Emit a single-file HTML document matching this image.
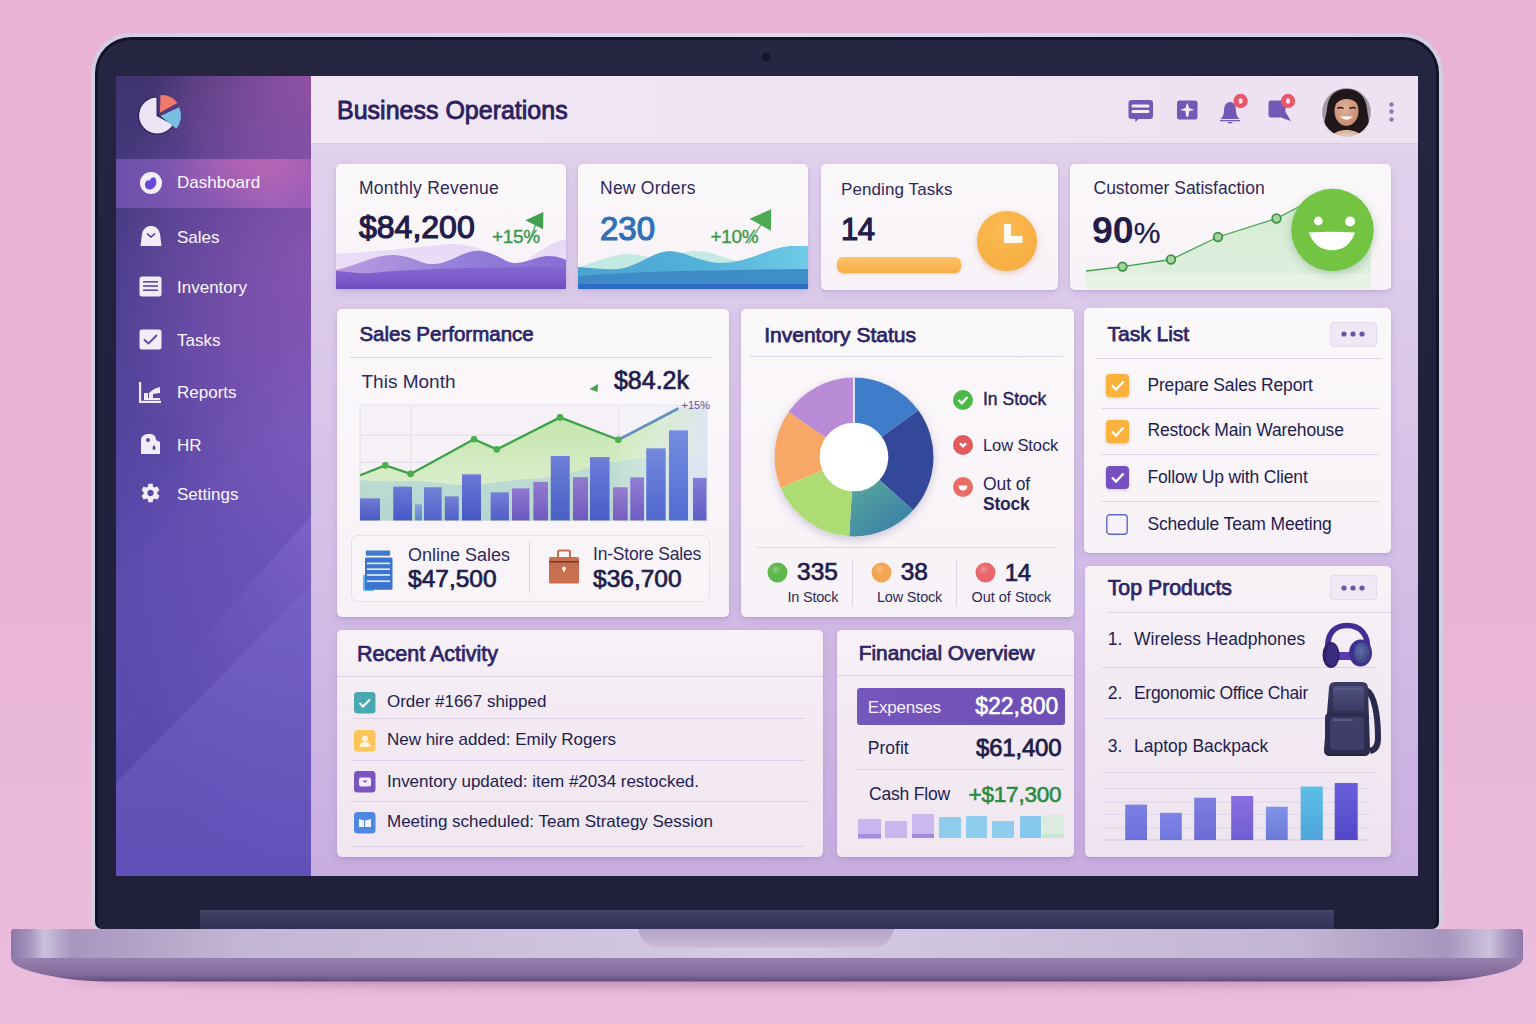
<!DOCTYPE html>
<html><head><meta charset="utf-8">
<style>
*{box-sizing:border-box;margin:0;padding:0}
html,body{width:1536px;height:1024px;overflow:hidden}
body{position:relative;font-family:"Liberation Sans",sans-serif;color:#231d4f;
 background:linear-gradient(180deg,#e9b3d3 0%,#e9b5d5 60%,#ebbddc 100%);}
.a{position:absolute}
.t{position:absolute;white-space:nowrap;line-height:1}
/* laptop */
#lid{left:91px;top:33px;width:1352px;height:897px;border-radius:40px 40px 10px 10px;
 background:linear-gradient(90deg,#d2cee4,#dedaec 50%,#d2cee4);}
#bezel{left:95px;top:37px;width:1344px;height:892px;border-radius:36px 36px 7px 7px;background:#14132a;}
#bezel2{left:98px;top:40px;width:1338px;height:889px;border-radius:33px 33px 6px 6px;background:linear-gradient(180deg,#262542,#22213d 40%,#21203b);}
#cam{left:762px;top:53px;width:8px;height:8px;border-radius:50%;background:#15142a}
#hinge{left:200px;top:910px;width:1134px;height:19px;background:linear-gradient(180deg,#454768 0%,#3b3d60 30%,#30325a 100%);}
#base{left:11px;top:929px;width:1512px;height:29px;border-radius:3px 3px 0 0;
 background:linear-gradient(90deg,#8f7aaa 0%,#c9bedb 2%,#a996bf 4%,#c0b2d2 12%,#cdc2dc 50%,#c0b2d2 88%,#a996bf 96%,#c9bedb 98%,#8f7aaa 100%);}
#bevel{left:11px;top:958px;width:1512px;height:24px;border-radius:0 0 60% 60%/0 0 100% 100%;
 background:linear-gradient(180deg,#9a83b3,#7f6797 80%,#5e4a78);}
#notch{left:638px;top:929px;width:256px;height:19px;border-radius:0 0 18px 18px;background:linear-gradient(180deg,#b7a5c8,#c8b8d6);}
#shadow{left:70px;top:972px;width:1396px;height:16px;border-radius:50%;background:rgba(110,50,100,.28);filter:blur(5px)}
/* screen */
#screen{left:116px;top:76px;width:1302px;height:800px;overflow:hidden;background:linear-gradient(180deg,#e4d4ee 0%,#dccaea 30%,#d4bfe7 60%,#c9aee0 100%);}
#side{left:0;top:0;width:195px;height:800px;background:radial-gradient(ellipse 160px 140px at 100% 0%,rgba(185,95,185,.55),rgba(185,95,185,0)),radial-gradient(ellipse 200px 300px at 100% 22%,rgba(175,95,195,.5),rgba(175,95,195,0)),radial-gradient(ellipse 230px 460px at 100% 45%,rgba(140,100,210,.45),rgba(140,100,210,0)),linear-gradient(180deg,#3f346f 0%,#4b3e8c 25%,#5345a4 55%,#5648b0 100%);}
#main{left:195px;top:0;width:1107px;height:800px}
#header{left:0;top:0;width:1107px;height:68px;background:linear-gradient(90deg,#f1e6f3,#eee1f1);border-bottom:1px solid #d9c9e6}
.card{position:absolute;background:linear-gradient(180deg,#fbf8fa,#f7f1f7);border-radius:5px;box-shadow:0 2px 8px rgba(110,80,160,.18)}
</style></head><body>
<div id="shadow" class="a"></div>
<div id="lid" class="a"></div>
<div id="bezel" class="a"></div>
<div id="bezel2" class="a"></div>
<div id="cam" class="a"></div>
<div id="hinge" class="a"></div>
<svg class="a" style="left:0;top:920px" width="1536" height="80" viewBox="0 920 1536 80">
 <defs>
  <linearGradient id="basetop" x1="0" y1="0" x2="1" y2="0">
   <stop offset="0" stop-color="#8c78a8"/><stop offset=".012" stop-color="#a593bd"/><stop offset=".022" stop-color="#cbc1dc"/>
   <stop offset=".04" stop-color="#a996bf"/><stop offset=".15" stop-color="#c3b5d4"/><stop offset=".5" stop-color="#d5cbe2"/>
   <stop offset=".85" stop-color="#c3b5d4"/><stop offset=".95" stop-color="#a996bf"/><stop offset=".978" stop-color="#cbc1dc"/>
   <stop offset=".99" stop-color="#a593bd"/><stop offset="1" stop-color="#8c78a8"/>
  </linearGradient>
  <linearGradient id="basebev" x1="0" y1="0" x2="0" y2="1">
   <stop offset="0" stop-color="#9580ad"/><stop offset=".7" stop-color="#836c9c"/><stop offset="1" stop-color="#604c7c"/>
  </linearGradient>
  <linearGradient id="notchg" x1="0" y1="0" x2="0" y2="1">
   <stop offset="0" stop-color="#b5a4c6"/><stop offset="1" stop-color="#c9bad7"/>
  </linearGradient>
 </defs>
 <path d="M11 958 L1523 958 Q1523 968 1490 975 Q1460 981.5 1430 981.5 L106 981.5 Q76 981.5 46 975 Q11 968 11 958Z" fill="url(#basebev)"/>
 <path d="M14 929 L1520 929 Q1523 929 1523 932 L1523 958 L11 958 L11 932 Q11 929 14 929Z" fill="url(#basetop)"/>
 <path d="M638 929 L894 929 Q890 947.5 872 947.5 L660 947.5 Q642 947.5 638 929Z" fill="url(#notchg)"/>
</svg>

<div id="screen" class="a">
 <div id="side" class="a">
  <svg class="a" style="left:0;top:0" width="195" height="800">
   <defs>
    <linearGradient id="sg1" x1="0" y1="0" x2="1" y2="1">
     <stop offset="0" stop-color="#6a56b6" stop-opacity="0"/>
     <stop offset="1" stop-color="#8a6fd0" stop-opacity=".35"/>
    </linearGradient>
    <radialGradient id="pinkglow" cx="0.85" cy="0.3" r="0.6">
     <stop offset="0" stop-color="#c070c0" stop-opacity=".8"/>
     <stop offset="1" stop-color="#c070c0" stop-opacity="0"/>
    </radialGradient>
   </defs>
   <polygon points="195,257 195,800 0,800 0,453" fill="#8a78d8" opacity=".07"/>
   <polygon points="195,303 195,800 0,800 0,499" fill="#8a78d8" opacity=".07"/>
   <defs>
    <linearGradient id="bandg" x1="1" y1="0" x2="0" y2="1">
     <stop offset="0" stop-color="#9a7ae0" stop-opacity=".35"/><stop offset=".6" stop-color="#6a58c0" stop-opacity=".08"/><stop offset="1" stop-color="#3a2c90" stop-opacity=".18"/>
    </linearGradient>
    <linearGradient id="lowg" x1="0" y1="0" x2="0" y2="1">
     <stop offset="0" stop-color="#9080e0" stop-opacity=".32"/><stop offset="1" stop-color="#7a70d8" stop-opacity=".12"/>
    </linearGradient>
   </defs>
   <polygon points="195,440 195,509 0,707 0,659" fill="url(#bandg)"/>
   <polygon points="195,509 195,800 0,800 0,707" fill="url(#lowg)"/>
  </svg>
  <div class="a" style="left:0;top:83px;width:195px;height:49px;background:radial-gradient(ellipse 90px 40px at 70% 10%,rgba(205,105,180,.55),rgba(205,105,180,0)),linear-gradient(90deg,#6a50ab 0%,#8558b2 45%,#a062b6 80%,#9c5eb6 100%);"></div>
  
  <!-- logo -->
  <svg class="a" style="left:17px;top:12px" width="55" height="55" viewBox="0 0 50 50">
   <path d="M22 25 L22 8 A17 17 0 1 0 37 33 Z" fill="#ece4f5" stroke="#2a2160" stroke-width="1.2"/>
   <path d="M24.5 22.5 L25 6.5 A18.5 18.5 0 0 1 40.5 13.5 Z" fill="#ef7a6c"/>
   <path d="M25 25.5 L42 17.5 A19 19 0 0 1 39.5 37 Z" fill="#79bee0"/>
  </svg>
  <!-- items -->
  <svg class="a" style="left:23px;top:95px" width="24" height="24" viewBox="0 0 24 24">
   <circle cx="12" cy="12" r="11" fill="#f3eefa"/>
   <path d="M6 14.5 C5.5 10.5 8.5 8.5 11 9.5 C12 6 16 5 17 8.5 C18.5 13 15.5 18.5 10.5 18.5 C8 18.5 6.3 17 6 14.5Z" fill="#6a48d8"/>
  </svg>
  <div class="t" style="left:61px;top:98px;font-size:17px;color:#fbf7ff">Dashboard</div>
  <svg class="a" style="left:23px;top:149px" width="24" height="22" viewBox="0 0 24 22">
   <path d="M1.5 21 L3 9 C4 3.5 8 1 12 1 C16 1 20 3.5 21 9 L22.5 21 Z" fill="#f1ecf8"/>
   <path d="M8 8.5 L12 12 L16 8.5" fill="none" stroke="#4b3c8c" stroke-width="1.6"/>
  </svg>
  <div class="t" style="left:61px;top:153px;font-size:17px;color:#fbf7ff">Sales</div>
  <svg class="a" style="left:23px;top:200px" width="23" height="21" viewBox="0 0 23 21">
   <rect x="0.5" y="0.5" width="22" height="20" rx="2.5" fill="#f1ecf8"/>
   <rect x="4" y="5" width="15" height="1.6" fill="#5b4a9c"/>
   <rect x="4" y="9.2" width="15" height="1.6" fill="#5b4a9c"/>
   <rect x="4" y="13.4" width="15" height="1.6" fill="#5b4a9c"/>
  </svg>
  <div class="t" style="left:61px;top:203px;font-size:17px;color:#fbf7ff">Inventory</div>
  <svg class="a" style="left:23px;top:253px" width="23" height="21" viewBox="0 0 23 21">
   <rect x="0.5" y="0.5" width="22" height="20" rx="2.5" fill="#f1ecf8"/>
   <path d="M5 10.5 L9.5 14.5 L18 6" fill="none" stroke="#5b4a9c" stroke-width="1.8"/>
  </svg>
  <div class="t" style="left:61px;top:256px;font-size:17px;color:#fbf7ff">Tasks</div>
  <svg class="a" style="left:23px;top:305px" width="23" height="22" viewBox="0 0 23 22">
   <path d="M1 1 L1 21 L22 21" fill="none" stroke="#f1ecf8" stroke-width="2.4"/>
   <rect x="5" y="12" width="4" height="6" fill="#f1ecf8"/>
   <path d="M10 18 L10 12 L15 8 L21 6 L21 12 L14 13 L14 18Z" fill="#f1ecf8"/>
   <rect x="5" y="17" width="16" height="2" fill="#f1ecf8"/>
  </svg>
  <div class="t" style="left:61px;top:308px;font-size:17px;color:#fbf7ff">Reports</div>
  <svg class="a" style="left:23px;top:357px" width="23" height="22" viewBox="0 0 23 22">
   <path d="M2 21 L2 8 C2 3 5 1 10 1 C15 1 17 3 17 7 L21 9 L21 21Z" fill="#f1ecf8"/>
   <circle cx="9" cy="7" r="2" fill="#5b4a9c"/>
   <path d="M15 12 C13 14 13 17 15 17 C17 17 17 14 15 12Z" fill="#5b4a9c"/>
  </svg>
  <div class="t" style="left:61px;top:361px;font-size:17px;color:#fbf7ff">HR</div>
  <svg class="a" style="left:23px;top:406px" width="23" height="22" viewBox="0 0 24 24">
   <path fill="#f1ecf8" d="M19.4 13c.04-.33.06-.66.06-1s-.02-.67-.06-1l2.1-1.65c.19-.15.24-.42.12-.64l-2-3.46c-.12-.22-.39-.3-.61-.22l-2.49 1c-.52-.4-1.08-.73-1.69-.98l-.38-2.65C14.46 2.18 14.25 2 14 2h-4c-.25 0-.46.18-.49.42l-.38 2.65c-.61.25-1.17.59-1.69.98l-2.49-1c-.23-.09-.49 0-.61.22l-2 3.46c-.13.22-.07.49.12.64L4.57 11c-.04.33-.07.67-.07 1s.03.67.07 1l-2.11 1.65c-.19.15-.24.42-.12.64l2 3.46c.12.22.39.3.61.22l2.49-1c.52.4 1.08.73 1.69.98l.38 2.65c.03.24.24.42.49.42h4c.25 0 .46-.18.49-.42l.38-2.65c.61-.25 1.17-.59 1.69-.98l2.49 1c.23.09.49 0 .61-.22l2-3.46c.12-.22.07-.49-.12-.64L19.4 13zM12 15.5c-1.93 0-3.5-1.57-3.5-3.5s1.57-3.5 3.5-3.5 3.5 1.57 3.5 3.5-1.57 3.5-3.5 3.5z"/>
  </svg>
  <div class="t" style="left:61px;top:410px;font-size:17px;color:#fbf7ff">Settings</div>
 </div>
 <div id="main" class="a">
  <div id="header" class="a"></div>
 </div>
</div>


<div class="t" style="left:337.0px;top:98.3px;font-size:25px;font-weight:400;color:#2a2160;letter-spacing:0;-webkit-text-stroke:0.85px #2a2160">Business Operations</div>
<svg class="a" style="left:1128px;top:99px;overflow:visible" width="26" height="24" viewBox="0 0 26 24"><rect x="0.5" y="1" width="24.5" height="19" rx="3" fill="#7358b5"/>
<path d="M7 19 L7.5 23 L11.5 19Z" fill="#7358b5"/>
<rect x="3.5" y="5.5" width="18" height="3" rx="1.5" fill="#f4eef8"/>
<rect x="3.5" y="11" width="18" height="3" rx="1.5" fill="#f4eef8"/></svg>
<svg class="a" style="left:1177px;top:100px;overflow:visible" width="21" height="20" viewBox="0 0 21 20"><rect x="0" y="0.5" width="20.5" height="19" rx="2.5" fill="#7358b5"/>
<path d="M10.3 3 C11.5 5 11.5 7 12 8 L17.5 10 L12 11 L11.5 16 L10.3 17 L9 16 L8.5 11 L3 10 L8.5 8 C9 7 9 5 10.3 3Z" fill="#f4eef8"/></svg>
<svg class="a" style="left:1219px;top:98px;overflow:visible" width="26" height="27" viewBox="0 0 26 27"><path d="M11 4 C6 4.5 5 9 5 13 C5 17 3.5 19 1.5 21 L20.5 21 C18.5 19 17 17 17 13 C17 9 16 4.5 11 4Z" fill="#7358b5"/>
<rect x="1" y="22" width="20" height="1.3" fill="#7358b5"/>
<path d="M8 24 Q11 27 14 24Z" fill="#7358b5"/>
<circle cx="21.6" cy="3" r="7.2" fill="#e9566a"/>
<ellipse cx="21.6" cy="3" rx="2" ry="2.8" fill="#fbe9ee"/></svg>
<svg class="a" style="left:1268px;top:98px;overflow:visible" width="30" height="26" viewBox="0 0 30 26"><path d="M0.5 5 Q0.5 2.5 3 2.5 L15 2.5 Q17.5 2.5 17.5 5 L17.5 14 L23 23 L12.5 19.5 L3 19.5 Q0.5 19.5 0.5 17 Z" fill="#7358b5"/>
<path d="M12.5 19.8 L17.5 24" stroke="#f4eef8" stroke-width="1.2"/>
<circle cx="20" cy="3" r="7.2" fill="#e9566a"/>
<ellipse cx="20" cy="3" rx="2" ry="2.8" fill="#fbe9ee"/></svg>
<svg class="a" style="left:1321px;top:87px;overflow:visible" width="51" height="51" viewBox="0 0 51 51"><defs><clipPath id="avc"><circle cx="25.5" cy="25.5" r="25.3"/></clipPath>
<radialGradient id="facg" cx=".45" cy=".4" r=".6"><stop offset="0" stop-color="#e2b29a"/><stop offset="1" stop-color="#c78c72"/></radialGradient></defs>
<g clip-path="url(#avc)">
<rect width="51" height="51" fill="#a398a8"/>
<path d="M4 46 C2 36 5 30 6 22 C7 8 15 2 25.5 2 C37 2 45 9 46 22 C47 30 49 36 47 46 Z" fill="#1f1719"/>
<path d="M10 51 C12 45 19 43 25.5 43 C32 43 39 45 41 51Z" fill="#e0b49c"/>
<path d="M14 51 C16 47 20 46 25.5 46 C31 46 35 47 37 51Z" fill="#d8c8c8"/>
<ellipse cx="25.5" cy="24" rx="12" ry="15" fill="url(#facg)"/>
<path d="M12 20 C13 9 20 5 27 6 C35 7 39 13 39.5 20 C35 14 30 11.5 24 12 C18 13 15 16 12 20Z" fill="#1f1719"/>
<path d="M16.5 21.5 Q19.5 19.5 22.5 21.5" stroke="#2a1a18" stroke-width="1.6" fill="none"/>
<path d="M28.5 21.5 Q31.5 19.5 34.5 21.5" stroke="#2a1a18" stroke-width="1.6" fill="none"/>
<path d="M19 29.5 Q25.5 36 32 29.5 Z" fill="#ffffff"/>
</g><circle cx="25.5" cy="25.5" r="25" fill="none" stroke="#f3ecf5" stroke-width="1.2"/></svg>
<svg class="a" style="left:1389px;top:101.5px;overflow:visible" width="5" height="5" viewBox="0 0 5 5"><circle cx="2.5" cy="2.5" r="2.2" fill="#8c78b4"/></svg>
<svg class="a" style="left:1389px;top:109.0px;overflow:visible" width="5" height="5" viewBox="0 0 5 5"><circle cx="2.5" cy="2.5" r="2.2" fill="#8c78b4"/></svg>
<svg class="a" style="left:1389px;top:116.5px;overflow:visible" width="5" height="5" viewBox="0 0 5 5"><circle cx="2.5" cy="2.5" r="2.2" fill="#8c78b4"/></svg>
<div class="a" style="left:336.0px;top:164.0px;width:230.0px;height:125.0px;border-radius:5px;background:linear-gradient(180deg,#fbf8fa,#f7f2f7);box-shadow:0 1px 2px rgba(120,90,170,.18),0 3px 10px rgba(120,90,170,.18);overflow:hidden"></div>
<svg class="a" style="left:336px;top:164px;overflow:visible" width="230" height="125" viewBox="0 0 230 125"><defs>
<linearGradient id="w1a" x1="0" y1="0" x2="0" y2="1"><stop offset="0" stop-color="#e7d7f6"/><stop offset="1" stop-color="#efe3f8"/></linearGradient>
<linearGradient id="w1b" x1="0" y1="0" x2="1" y2="0"><stop offset="0" stop-color="#b394dc"/><stop offset="0.55" stop-color="#8a74d6"/><stop offset="1" stop-color="#7e62d0"/></linearGradient>
<linearGradient id="w1c" x1="0" y1="0" x2="0" y2="1"><stop offset="0" stop-color="#8466d0"/><stop offset="1" stop-color="#7352c4"/></linearGradient>
</defs>
<path d="M0 90 C30 88 60 86 112 80 C140 79 160 92 172 99 C190 106 200 82 230 75 L230 125 L0 125Z" fill="url(#w1a)"/>
<path d="M0 106 C20 102 40 90 58 91 C78 92 86 101 97 100 C115 100 128 85 145 87 C162 89 170 100 180 99 C195 98 200 92 213 92 C222 92 228 95 230 96 L230 125 L0 125Z" fill="url(#w1b)" opacity=".9"/>
<path d="M0 107 C15 108 25 110 35 109 C80 105 140 103 230 103 L230 125 L0 125Z" fill="url(#w1c)"/>
<rect x="0" y="119" width="230" height="6" fill="#6d4fc0" opacity=".6"/></svg>
<div class="t" style="left:359.0px;top:180.2px;font-size:17.5px;font-weight:400;color:#2e2a5a;letter-spacing:0.25px">Monthly Revenue</div>
<div class="t" style="left:359.0px;top:210.9px;font-size:32px;font-weight:400;color:#221c4a;letter-spacing:0;-webkit-text-stroke:1.2px #221c4a">$84,200</div>
<div class="t" style="left:492.0px;top:226.9px;font-size:19px;font-weight:400;color:#3a9a48;letter-spacing:-0.3px;-webkit-text-stroke:0.35px #3a9a48">+15%</div>
<svg class="a" style="left:524px;top:210px;overflow:visible" width="22" height="36" viewBox="0 0 22 36"><path d="M1.4 10.2 L19.4 2 L19 19.2 Z" fill="#43a250"/>
<path d="M11.5 15 L4.4 33.4" stroke="#43a250" stroke-width="1.2"/></svg>
<div class="a" style="left:578.0px;top:164.0px;width:230.0px;height:125.0px;border-radius:5px;background:linear-gradient(180deg,#fbf8fa,#f7f2f7);box-shadow:0 1px 2px rgba(120,90,170,.18),0 3px 10px rgba(120,90,170,.18);overflow:hidden"></div>
<svg class="a" style="left:578px;top:164px;overflow:visible" width="230" height="125" viewBox="0 0 230 125"><defs>
<linearGradient id="w2b" x1="0" y1="0" x2="1" y2="0"><stop offset="0" stop-color="#4aa2d0"/><stop offset="0.6" stop-color="#55b4da"/><stop offset="1" stop-color="#6fcbe6"/></linearGradient>
<linearGradient id="w2c" x1="0" y1="0" x2="1" y2="0"><stop offset="0" stop-color="#3f88c8"/><stop offset="1" stop-color="#3d8fc6"/></linearGradient>
</defs>
<path d="M4 102 C20 97 35 90 50 90 C62 90 72 94 78 94 C92 94 105 86 120 87 C135 88 145 94 160 97 L160 125 L4 125Z" fill="#c2eae2"/>
<path d="M0 103 C15 104 30 106 40 105 C60 103 75 87 92 87 C105 87 125 99 142 99 C170 99 190 84 212 82 L230 82 L230 125 L0 125Z" fill="url(#w2b)"/>
<path d="M0 112 C30 110 60 108 100 107 C160 106 200 105 230 105 L230 125 L0 125Z" fill="url(#w2c)"/>
<rect x="0" y="120" width="230" height="5" fill="#2c6cc2"/></svg>
<div class="t" style="left:600.0px;top:180.2px;font-size:17.5px;font-weight:400;color:#2e2a5a;letter-spacing:0.25px">New Orders</div>
<div class="t" style="left:600.0px;top:211.6px;font-size:33px;font-weight:400;color:#2f70b8;letter-spacing:0;-webkit-text-stroke:1.2px #2f70b8">230</div>
<div class="t" style="left:710.5px;top:226.9px;font-size:19px;font-weight:400;color:#3a9a48;letter-spacing:-0.3px;-webkit-text-stroke:0.35px #3a9a48">+10%</div>
<svg class="a" style="left:747px;top:207px;overflow:visible" width="26" height="38" viewBox="0 0 26 38"><path d="M2.5 11.7 L24.2 2.3 L23.9 23.7 Z" fill="#4cab52"/>
<path d="M14.4 17 L1.7 36.4" stroke="#4cab52" stroke-width="1.2"/></svg>
<div class="a" style="left:821.0px;top:164.0px;width:237.0px;height:126.0px;border-radius:5px;background:linear-gradient(180deg,#fbf8fa,#f7f2f7);box-shadow:0 1px 2px rgba(120,90,170,.18),0 3px 10px rgba(120,90,170,.18);"></div>
<div class="t" style="left:841.0px;top:180.6px;font-size:17px;font-weight:400;color:#2e2a5a;letter-spacing:0.1px">Pending Tasks</div>
<div class="t" style="left:841.0px;top:214.3px;font-size:31px;font-weight:400;color:#221c4a;letter-spacing:-0.5px;-webkit-text-stroke:1.2px #221c4a">14</div>
<div class="a" style="left:837.0px;top:257.0px;width:124.0px;height:16.0px;border-radius:6px;background:linear-gradient(180deg,#fcc268,#f8ad48);box-shadow:0 1px 2px rgba(200,120,40,.3)"></div>
<svg class="a" style="left:972px;top:206px;overflow:visible" width="70" height="70" viewBox="0 0 70 70"><defs><radialGradient id="og" cx=".45" cy=".35" r=".7"><stop offset="0" stop-color="#fcbc52"/><stop offset="1" stop-color="#f6ac40"/></radialGradient></defs>
<circle cx="35" cy="35" r="30" fill="url(#og)" style="filter:drop-shadow(0 2px 3px rgba(200,120,60,.35))"/>
<path d="M32 18 L39 18 L39 30 L50.5 30 L50.5 37 L32 37 Z" fill="#fffaf2"/></svg>
<div class="a" style="left:1069.5px;top:164.0px;width:321.5px;height:126.0px;border-radius:5px;background:linear-gradient(180deg,#fbf8fa,#f7f2f7);box-shadow:0 1px 2px rgba(120,90,170,.18),0 3px 10px rgba(120,90,170,.18);overflow:hidden"></div>
<svg class="a" style="left:1069.5px;top:164px;overflow:visible" width="321.5" height="126" viewBox="0 0 321.5 126"><defs>
<linearGradient id="g4" x1="0" y1="0" x2="0" y2="1"><stop offset="0" stop-color="#c2e6c2" stop-opacity=".7"/><stop offset="1" stop-color="#d8efd6" stop-opacity=".7"/></linearGradient>
</defs>
<path d="M16 107 L52.5 102.6 L101 95.5 L148 73 L206.5 54.5 L240 37 L285 50 L301 80 L301 126 L16 126 Z" fill="url(#g4)"/>
<rect x="16" y="109" width="285" height="17" fill="#ffffff" opacity=".25"/>
<path d="M16 107 L52.5 102.6 L101 95.5 L148 73 L206.5 54.5 L240 37" fill="none" stroke="#45a04c" stroke-width="1.3"/>
<circle cx="52.5" cy="102.6" r="4.3" fill="#a6d4a0" stroke="#3a9444" stroke-width="1.8"/>
<circle cx="101" cy="95.5" r="4.3" fill="#a6d4a0" stroke="#3a9444" stroke-width="1.8"/>
<circle cx="148" cy="73" r="4.3" fill="#a6d4a0" stroke="#3a9444" stroke-width="1.8"/>
<circle cx="206.5" cy="54.5" r="4.3" fill="#a6d4a0" stroke="#3a9444" stroke-width="1.8"/></svg>
<div class="t" style="left:1093.5px;top:180.2px;font-size:17.5px;font-weight:400;color:#2e2a5a;letter-spacing:0">Customer Satisfaction</div>
<div class="t" style="left:1092.0px;top:212.0px;font-size:37.5px;font-weight:700;color:#221c4a;letter-spacing:0">90<span style="font-size:30px;font-weight:400;letter-spacing:0;-webkit-text-stroke:0.3px #221c4a">%</span></div>
<svg class="a" style="left:1289px;top:187px;overflow:visible" width="87" height="87" viewBox="0 0 87 87"><circle cx="43.5" cy="43" r="41.2" fill="#74c443" style="filter:drop-shadow(0 3px 4px rgba(60,120,60,.3))"/>
<circle cx="29.3" cy="34" r="4.4" fill="#fff"/>
<circle cx="61.1" cy="34.5" r="5" fill="#fff"/>
<path d="M19.8 45.5 Q43 44 66 45.5 Q60 63 43 63.3 Q26 63 19.8 45.5Z" fill="#fff"/></svg>
<div class="a" style="left:336.7px;top:308.5px;width:392.3px;height:308.5px;border-radius:5px;background:linear-gradient(180deg,#fbf8fa,#f7f2f7);box-shadow:0 1px 2px rgba(120,90,170,.18),0 3px 10px rgba(120,90,170,.18);"></div>
<div class="t" style="left:359.4px;top:324.0px;font-size:20.5px;font-weight:400;color:#2c2566;-webkit-text-stroke:0.75px #2c2566">Sales Performance</div>
<div class="a" style="left:350.0px;top:356.9px;width:361.0px;height:1.0px;background:#ddd3e6"></div>
<div class="t" style="left:361.5px;top:371.9px;font-size:19px;font-weight:400;color:#2e2a5a;">This Month</div>
<div class="t" style="right:847.0px;top:368.2px;font-size:25px;font-weight:400;color:#221c4a;letter-spacing:0;-webkit-text-stroke:0.7px #221c4a">$84.2k</div>
<svg class="a" style="left:588px;top:382px;overflow:visible" width="12" height="12" viewBox="0 0 12 12"><path d="M1.5 7 L10 2 L9.5 10 Z" fill="#43a250"/></svg>
<svg class="a" style="left:360px;top:404.6px;overflow:visible" width="347" height="115.4" viewBox="0 0 347 115.4"><defs><linearGradient id="spg" x1="0" y1="0" x2="0" y2="1"><stop offset="0" stop-color="#b8e3a0" stop-opacity=".9"/><stop offset="1" stop-color="#d8f0c0" stop-opacity=".6"/></linearGradient><linearGradient id="spt" x1="0" y1="0" x2="0" y2="1"><stop offset="0" stop-color="#b8d8d8" stop-opacity=".7"/><stop offset="1" stop-color="#a8cfd0" stop-opacity=".8"/></linearGradient><linearGradient id="spr" x1="0" y1="0" x2="1" y2="0"><stop offset="0" stop-color="#ffffff" stop-opacity="0"/><stop offset="1" stop-color="#dfe4f6" stop-opacity=".9"/></linearGradient></defs><rect x="0" y="0" width="347" height="115.4" fill="#f5f1f6" stroke="#e6dfec" stroke-width="1"/><line x1="0" x2="347" y1="30.2" y2="30.2" stroke="#e3dbe9" stroke-width="1"/><line x1="0" x2="347" y1="57.4" y2="57.4" stroke="#e3dbe9" stroke-width="1"/><line x1="0" x2="347" y1="84.6" y2="84.6" stroke="#e3dbe9" stroke-width="1"/><line x1="51" x2="51" y1="0" y2="115.4" stroke="#e3dbe9" stroke-width="1"/><line x1="259" x2="259" y1="0" y2="115.4" stroke="#e3dbe9" stroke-width="1"/><path d="M0.0,70.3 25.3,60.4 50.6,68.9 114.0,34.2 136.8,44.4 200.0,12.4 258.3,34.8 318.4,3.4 L347,4 L347,115.4 L0,115.4 Z" fill="url(#spg)"/><path d="M0 75 C15 76 30 77 45 76 C65 75 80 79 100 80 C125 81 140 75 170 74 C200 73 220 64 250 58 C280 52 320 50 347 50 L347 115.4 L0 115.4Z" fill="url(#spt)"/><rect x="250" y="0" width="97" height="115.4" fill="url(#spr)"/><defs><linearGradient id="bsh" x1="0" y1="0" x2="0" y2="1"><stop offset="0" stop-color="#ffffff" stop-opacity=".16"/><stop offset="1" stop-color="#1a2a90" stop-opacity=".14"/></linearGradient></defs><rect x="0.0" y="93.4" width="20.0" height="22.0" fill="#5562cc"/><rect x="0.0" y="93.4" width="20.0" height="22.0" fill="url(#bsh)"/><rect x="33.3" y="81.7" width="18.7" height="33.7" fill="#5060d0"/><rect x="33.3" y="81.7" width="18.7" height="33.7" fill="url(#bsh)"/><rect x="55.0" y="99.4" width="7.0" height="16.0" fill="#6f94d8"/><rect x="55.0" y="99.4" width="7.0" height="16.0" fill="url(#bsh)"/><rect x="64.0" y="82.3" width="17.6" height="33.1" fill="#5a6ad0"/><rect x="64.0" y="82.3" width="17.6" height="33.1" fill="url(#bsh)"/><rect x="84.8" y="91.4" width="13.9" height="24.0" fill="#5a6ad0"/><rect x="84.8" y="91.4" width="13.9" height="24.0" fill="url(#bsh)"/><rect x="102.0" y="69.4" width="19.0" height="46.0" fill="#4f5fcf"/><rect x="102.0" y="69.4" width="19.0" height="46.0" fill="url(#bsh)"/><rect x="130.7" y="87.4" width="18.2" height="28.0" fill="#5b66d0"/><rect x="130.7" y="87.4" width="18.2" height="28.0" fill="url(#bsh)"/><rect x="152.0" y="83.4" width="17.4" height="32.0" fill="#7a5fc8"/><rect x="152.0" y="83.4" width="17.4" height="32.0" fill="url(#bsh)"/><rect x="173.4" y="76.9" width="14.6" height="38.5" fill="#7f62c8"/><rect x="173.4" y="76.9" width="14.6" height="38.5" fill="url(#bsh)"/><rect x="190.8" y="51.0" width="18.9" height="64.4" fill="#5268d0"/><rect x="190.8" y="51.0" width="18.9" height="64.4" fill="url(#bsh)"/><rect x="213.0" y="72.1" width="15.0" height="43.3" fill="#7f62c8"/><rect x="213.0" y="72.1" width="15.0" height="43.3" fill="url(#bsh)"/><rect x="230.0" y="52.1" width="19.5" height="63.3" fill="#5066d2"/><rect x="230.0" y="52.1" width="19.5" height="63.3" fill="url(#bsh)"/><rect x="253.0" y="82.3" width="14.7" height="33.1" fill="#8466c8"/><rect x="253.0" y="82.3" width="14.7" height="33.1" fill="url(#bsh)"/><rect x="270.3" y="72.4" width="13.7" height="43.0" fill="#7e66cc"/><rect x="270.3" y="72.4" width="13.7" height="43.0" fill="url(#bsh)"/><rect x="286.3" y="43.4" width="19.3" height="72.0" fill="#5a72d8"/><rect x="286.3" y="43.4" width="19.3" height="72.0" fill="url(#bsh)"/><rect x="309.0" y="25.4" width="19.0" height="90.0" fill="#5a78dc"/><rect x="309.0" y="25.4" width="19.0" height="90.0" fill="url(#bsh)"/><rect x="333.0" y="72.9" width="13.4" height="42.5" fill="#6b66cf"/><rect x="333.0" y="72.9" width="13.4" height="42.5" fill="url(#bsh)"/><polyline points="0.0,70.3 25.3,60.4 50.6,68.9 114.0,34.2 136.8,44.4 200.0,12.4 258.3,34.8 318.4,3.4" fill="none" stroke="#3fa24a" stroke-width="2.3" stroke-linejoin="round"/><line x1="258.3" y1="34.8" x2="318.4" y2="3.4" stroke="#6a8fc8" stroke-width="2.6"/><circle cx="25.3" cy="60.4" r="3.3" fill="#4cad4c"/><circle cx="50.6" cy="68.9" r="3.3" fill="#4cad4c"/><circle cx="114.0" cy="34.2" r="3.3" fill="#4cad4c"/><circle cx="136.8" cy="44.4" r="3.3" fill="#4cad4c"/><circle cx="200.0" cy="12.4" r="3.3" fill="#4cad4c"/><circle cx="258.3" cy="34.8" r="3.3" fill="#4cad4c"/></svg>
<div class="t" style="right:826.0px;top:400.2px;font-size:11px;font-weight:400;color:#5f55a8;">+15%</div>
<div class="a" style="left:351.0px;top:534.6px;width:359.4px;height:67.4px;border:1px solid #e7dfee;border-radius:7px;background:#f8f4f8"></div>
<div class="a" style="left:529.2px;top:542.0px;width:1.2px;height:51.0px;background:#ddd3e5"></div>
<svg class="a" style="left:362px;top:549px;overflow:visible" width="32" height="43" viewBox="0 0 32 43"><rect x="3.8" y="1.6" width="24.4" height="5.2" rx="1" fill="#3f7ad0"/><path d="M1 26 L1 40 Q1 42 3 42 L12 42 L12 26Z" fill="#5ab6ef"/><rect x="3" y="8.6" width="27.5" height="32.2" rx="1.5" fill="#3d74cf"/><rect x="5" y="13.6" width="23" height="1.6" fill="#e6eefa"/><rect x="5" y="19.4" width="23" height="1.6" fill="#e6eefa"/><rect x="5" y="25.2" width="23" height="1.6" fill="#e6eefa"/><rect x="5" y="31.4" width="23" height="1.6" fill="#e6eefa"/></svg>
<div class="t" style="left:408.0px;top:545.5px;font-size:18px;font-weight:400;color:#2e2a5a;letter-spacing:0">Online Sales</div>
<div class="t" style="left:408.0px;top:566.7px;font-size:24.5px;font-weight:400;color:#221c4a;letter-spacing:0;-webkit-text-stroke:0.7px #221c4a">$47,500</div>
<svg class="a" style="left:548px;top:549px;overflow:visible" width="32" height="36" viewBox="0 0 32 36"><path d="M10 8 L10 3 Q10 1.5 11.5 1.5 L20.5 1.5 Q22 1.5 22 3 L22 8" fill="none" stroke="#c87050" stroke-width="2"/><rect x="1" y="8" width="30" height="26.4" rx="1.5" fill="#c86f50"/><rect x="1" y="12" width="30" height="1.6" fill="#7a3a2a"/><circle cx="16" cy="19.5" r="2" fill="#fff4ee"/><rect x="15.2" y="19" width="1.6" height="4" fill="#fff4ee"/></svg>
<div class="t" style="left:593.0px;top:545.9px;font-size:17.5px;font-weight:400;color:#2e2a5a;letter-spacing:-0.2px">In-Store Sales</div>
<div class="t" style="left:593.0px;top:566.7px;font-size:24.5px;font-weight:400;color:#221c4a;letter-spacing:0;-webkit-text-stroke:0.7px #221c4a">$36,700</div>
<div class="a" style="left:740.7px;top:309.0px;width:333.3px;height:308.4px;border-radius:5px;background:linear-gradient(180deg,#fbf8fa,#f7f2f7);box-shadow:0 1px 2px rgba(120,90,170,.18),0 3px 10px rgba(120,90,170,.18);"></div>
<div class="t" style="left:764.2px;top:323.5px;font-size:21px;font-weight:400;color:#2c2566;-webkit-text-stroke:0.75px #2c2566">Inventory Status</div>
<div class="a" style="left:750.0px;top:356.0px;width:312.5px;height:1.0px;background:#ddd3e6"></div>
<svg class="a" style="left:764px;top:366.5px;overflow:visible" width="180" height="180" viewBox="0 0 180 180"><defs><linearGradient id="tealg" x1="0" y1="0" x2="1" y2="1"><stop offset="0" stop-color="#5aaa9c"/><stop offset="1" stop-color="#3478a8"/></linearGradient></defs><circle cx="90" cy="90" r="79.5" fill="#fff" style="filter:drop-shadow(0 3px 4px rgba(80,60,130,.25))"/><path d="M90.00 10.50 A79.5 79.5 0 0 1 154.32 43.27 L117.75 69.84 A34.3 34.3 0 0 0 90.00 55.70 Z" fill="#3f7dcb"/><path d="M154.32 43.27 A79.5 79.5 0 0 1 149.08 143.20 L115.49 112.95 A34.3 34.3 0 0 0 117.75 69.84 Z" fill="#34489a"/><path d="M149.08 143.20 A79.5 79.5 0 0 1 85.15 169.35 L87.91 124.24 A34.3 34.3 0 0 0 115.49 112.95 Z" fill="url(#tealg)"/><path d="M85.15 169.35 A79.5 79.5 0 0 1 16.66 120.68 L58.36 103.24 A34.3 34.3 0 0 0 87.91 124.24 Z" fill="#addc74"/><path d="M16.66 120.68 A79.5 79.5 0 0 1 24.48 44.97 L61.73 70.57 A34.3 34.3 0 0 0 58.36 103.24 Z" fill="#f7a866"/><path d="M24.48 44.97 A79.5 79.5 0 0 1 90.00 10.50 L90.00 55.70 A34.3 34.3 0 0 0 61.73 70.57 Z" fill="#b98bd6"/><line x1="90" y1="10.5" x2="90" y2="55.7" stroke="#fff" stroke-width="1.6"/></svg>
<svg class="a" style="left:951.5px;top:389px;overflow:visible" width="22" height="22" viewBox="0 0 22 22"><circle cx="11" cy="11" r="10" fill="#4cb848"/><path d="M6.5 11 L9.8 14.3 L15.5 8" fill="none" stroke="#fff" stroke-width="2.2"/></svg>
<svg class="a" style="left:951.5px;top:434px;overflow:visible" width="22" height="22" viewBox="0 0 22 22"><circle cx="11" cy="11" r="10" fill="#e35a5c"/><path d="M7 10 L11 14 L15 10 L13 8.5 L11 10.5 L9 8.5Z" fill="#fff"/></svg>
<svg class="a" style="left:951.5px;top:476px;overflow:visible" width="22" height="22" viewBox="0 0 22 22"><circle cx="11" cy="11" r="10" fill="#ea6a66"/><path d="M6.5 9.5 L15.5 9.5 Q15 14.5 11 14.5 Q7 14.5 6.5 9.5Z" fill="#fff"/></svg>
<div class="t" style="left:983.0px;top:390.6px;font-size:17.5px;font-weight:400;color:#2a2458;letter-spacing:0;-webkit-text-stroke:0.45px #2a2458">In Stock</div>
<div class="t" style="left:983.0px;top:436.7px;font-size:16.5px;font-weight:400;color:#2a2458;letter-spacing:-0.1px">Low Stock</div>
<div class="t" style="left:983.0px;top:475.6px;font-size:17.5px;font-weight:400;color:#2a2458;letter-spacing:-0.1px">Out of</div>
<div class="t" style="left:983.0px;top:496.2px;font-size:17.5px;font-weight:700;color:#2a2458;letter-spacing:-0.2px">Stock</div>
<div class="a" style="left:756.6px;top:547.0px;width:298.4px;height:1.0px;background:#ddd3e6"></div>
<div class="a" style="left:852.0px;top:558.6px;width:1.2px;height:47.4px;background:#ddd3e5"></div>
<div class="a" style="left:956.0px;top:558.6px;width:1.2px;height:47.4px;background:#ddd3e5"></div>
<svg class="a" style="left:766.5px;top:561.8px;overflow:visible" width="21" height="21" viewBox="0 0 21 21"><defs><radialGradient id="dg777" cx=".4" cy=".35" r=".7"><stop offset="0" stop-color="#ffffff" stop-opacity=".35"/><stop offset=".5" stop-color="#5cb84a" stop-opacity="0"/></radialGradient></defs><circle cx="10.5" cy="10.5" r="10" fill="#5cb84a"/><circle cx="10.5" cy="10.5" r="10" fill="url(#dg777)"/></svg>
<svg class="a" style="left:871.1px;top:561.8px;overflow:visible" width="21" height="21" viewBox="0 0 21 21"><defs><radialGradient id="dg881" cx=".4" cy=".35" r=".7"><stop offset="0" stop-color="#ffffff" stop-opacity=".35"/><stop offset=".5" stop-color="#f4a552" stop-opacity="0"/></radialGradient></defs><circle cx="10.5" cy="10.5" r="10" fill="#f4a552"/><circle cx="10.5" cy="10.5" r="10" fill="url(#dg881)"/></svg>
<svg class="a" style="left:974.5px;top:561.8px;overflow:visible" width="21" height="21" viewBox="0 0 21 21"><defs><radialGradient id="dg985" cx=".4" cy=".35" r=".7"><stop offset="0" stop-color="#ffffff" stop-opacity=".35"/><stop offset=".5" stop-color="#e9676a" stop-opacity="0"/></radialGradient></defs><circle cx="10.5" cy="10.5" r="10" fill="#e9676a"/><circle cx="10.5" cy="10.5" r="10" fill="url(#dg985)"/></svg>
<div class="t" style="left:797.0px;top:560.2px;font-size:24.5px;font-weight:400;color:#221c4a;letter-spacing:0;-webkit-text-stroke:0.7px #221c4a">335</div>
<div class="t" style="left:900.7px;top:560.2px;font-size:24.5px;font-weight:400;color:#221c4a;letter-spacing:0;-webkit-text-stroke:0.7px #221c4a">38</div>
<div class="t" style="left:1004.8px;top:560.6px;font-size:24px;font-weight:400;color:#221c4a;letter-spacing:-0.3px;-webkit-text-stroke:0.7px #221c4a">14</div>
<div class="t" style="left:787.4px;top:589.7px;font-size:14.5px;font-weight:400;color:#2e2a5a;letter-spacing:-0.2px">In Stock</div>
<div class="t" style="left:877.0px;top:589.7px;font-size:14.5px;font-weight:400;color:#2e2a5a;letter-spacing:-0.2px">Low Stock</div>
<div class="t" style="left:971.4px;top:589.7px;font-size:14.5px;font-weight:400;color:#2e2a5a;letter-spacing:0">Out of Stock</div>
<div class="a" style="left:1084.4px;top:308.0px;width:306.6px;height:245.0px;border-radius:5px;background:linear-gradient(180deg,#fbf8fa,#f7f2f7);box-shadow:0 1px 2px rgba(120,90,170,.18),0 3px 10px rgba(120,90,170,.18);"></div>
<div class="t" style="left:1107.5px;top:323.2px;font-size:21px;font-weight:400;color:#2c2566;-webkit-text-stroke:0.75px #2c2566">Task List</div>
<div class="a" style="left:1330.0px;top:321.6px;width:46.6px;height:25.4px;border-radius:4px;background:#efe8f5;border:1px solid #e4daee"></div>
<svg class="a" style="left:1340.3px;top:330.3px;overflow:visible" width="26" height="8" viewBox="0 0 26 8"><circle cx="4" cy="4" r="2.6" fill="#6a56a8"/><circle cx="13" cy="4" r="2.6" fill="#6a56a8"/><circle cx="22" cy="4" r="2.6" fill="#6a56a8"/></svg>
<div class="a" style="left:1096.6px;top:357.9px;width:285.4px;height:1.0px;background:#ddd3e6"></div>
<svg class="a" style="left:1106px;top:374px;overflow:visible" width="23" height="23" viewBox="0 0 23 23"><rect x="0" y="0" width="23" height="23" rx="4" fill="#fbb23c" style="filter:drop-shadow(0 1px 1.5px rgba(0,0,0,.18))"/><path d="M6 11.5 L10 15.5 L17.5 7.5" fill="none" stroke="#fff" stroke-width="2.4"/></svg>
<div class="t" style="left:1147.4px;top:377.2px;font-size:17.5px;font-weight:400;color:#231d4f;letter-spacing:-0.15px">Prepare Sales Report</div>
<svg class="a" style="left:1106px;top:419.8px;overflow:visible" width="23" height="23" viewBox="0 0 23 23"><rect x="0" y="0" width="23" height="23" rx="4" fill="#fbb23c" style="filter:drop-shadow(0 1px 1.5px rgba(0,0,0,.18))"/><path d="M6 11.5 L10 15.5 L17.5 7.5" fill="none" stroke="#fff" stroke-width="2.4"/></svg>
<div class="t" style="left:1147.4px;top:422.2px;font-size:17.5px;font-weight:400;color:#231d4f;letter-spacing:-0.15px">Restock Main Warehouse</div>
<svg class="a" style="left:1106px;top:466px;overflow:visible" width="23" height="23" viewBox="0 0 23 23"><rect x="0" y="0" width="23" height="23" rx="4" fill="#7650c0" style="filter:drop-shadow(0 1px 1.5px rgba(0,0,0,.18))"/><path d="M6 11.5 L10 15.5 L17.5 7.5" fill="none" stroke="#fff" stroke-width="2.4"/></svg>
<div class="t" style="left:1147.4px;top:469.2px;font-size:17.5px;font-weight:400;color:#231d4f;letter-spacing:-0.15px">Follow Up with Client</div>
<svg class="a" style="left:1106px;top:513.8px;overflow:visible" width="22" height="21" viewBox="0 0 22 21"><rect x="0.8" y="0.8" width="20.4" height="19.4" rx="3" fill="#f6f3fa" stroke="#5e6ac8" stroke-width="1.4"/></svg>
<div class="t" style="left:1147.4px;top:516.2px;font-size:17.5px;font-weight:400;color:#231d4f;letter-spacing:-0.15px">Schedule Team Meeting</div>
<div class="a" style="left:1101.7px;top:407.9px;width:277.3px;height:1.0px;background:#ddd3e6"></div>
<div class="a" style="left:1101.7px;top:453.5px;width:277.3px;height:1.0px;background:#ddd3e6"></div>
<div class="a" style="left:1101.7px;top:500.8px;width:277.3px;height:1.0px;background:#ddd3e6"></div>
<div class="a" style="left:1084.7px;top:566.0px;width:306.7px;height:290.7px;border-radius:5px;background:linear-gradient(180deg,#f8f2f7,#f3ebf3 40%,#eee4f0);box-shadow:0 1px 2px rgba(120,90,170,.18),0 3px 10px rgba(120,90,170,.18);"></div>
<div class="t" style="left:1107.7px;top:578.3px;font-size:21.3px;font-weight:400;color:#2c2566;-webkit-text-stroke:0.75px #2c2566">Top Products</div>
<div class="a" style="left:1330.0px;top:575.0px;width:46.8px;height:25.0px;border-radius:4px;background:#efe8f5;border:1px solid #e4daee"></div>
<svg class="a" style="left:1340.4px;top:583.5px;overflow:visible" width="26" height="8" viewBox="0 0 26 8"><circle cx="4" cy="4" r="2.6" fill="#6a56a8"/><circle cx="13" cy="4" r="2.6" fill="#6a56a8"/><circle cx="22" cy="4" r="2.6" fill="#6a56a8"/></svg>
<div class="a" style="left:1108.0px;top:611.5px;width:283.0px;height:1.0px;background:#ddd3e6"></div>
<div class="t" style="left:1107.7px;top:630.9px;font-size:17.5px;font-weight:400;color:#231d4f;">1.</div>
<div class="t" style="left:1134.0px;top:630.9px;font-size:17.5px;font-weight:400;color:#231d4f;letter-spacing:0">Wireless Headphones</div>
<div class="t" style="left:1107.7px;top:684.5px;font-size:17.5px;font-weight:400;color:#231d4f;">2.</div>
<div class="t" style="left:1134.0px;top:684.5px;font-size:17.5px;font-weight:400;color:#231d4f;letter-spacing:-0.3px">Ergonomic Office Chair</div>
<div class="t" style="left:1107.7px;top:738.1px;font-size:17.5px;font-weight:400;color:#231d4f;">3.</div>
<div class="t" style="left:1134.0px;top:738.1px;font-size:17.5px;font-weight:400;color:#231d4f;letter-spacing:0">Laptop Backpack</div>
<div class="a" style="left:1101.6px;top:667.0px;width:274.4px;height:1.0px;background:#ddd3e6"></div>
<div class="a" style="left:1101.6px;top:717.8px;width:274.4px;height:1.0px;background:#ddd3e6"></div>
<div class="a" style="left:1101.6px;top:772.0px;width:274.4px;height:1.0px;background:#ddd3e6"></div>
<svg class="a" style="left:1320px;top:620px;overflow:visible" width="54" height="52" viewBox="0 0 54 52"><defs><radialGradient id="hpr" cx=".4" cy=".4" r=".7"><stop offset="0" stop-color="#5a70a8"/><stop offset="1" stop-color="#3a3a7a"/></radialGradient></defs><path d="M8 32 C6 14 14 5.5 27 5.5 C40 5.5 49 14 47.5 32" fill="none" stroke="#432c94" stroke-width="5.5"/><rect x="14" y="32" width="26" height="8" rx="3" fill="#5a3ab0"/><ellipse cx="11" cy="35" rx="8.5" ry="13" fill="#2e2262"/><ellipse cx="12" cy="35" rx="6" ry="11" fill="#3a2c80"/><ellipse cx="40.5" cy="33" rx="11.5" ry="13.5" fill="#3e2e8e"/><ellipse cx="42" cy="33" rx="8" ry="10.5" fill="url(#hpr)"/></svg>
<svg class="a" style="left:1320px;top:680px;overflow:visible" width="62" height="80" viewBox="0 0 62 80"><defs><linearGradient id="bpg" x1="0" y1="0" x2="0" y2="1"><stop offset="0" stop-color="#3a3a62"/><stop offset="1" stop-color="#24243f"/></linearGradient><linearGradient id="bpp" x1="0" y1="0" x2="0" y2="1"><stop offset="0" stop-color="#50507e"/><stop offset="1" stop-color="#3a3a62"/></linearGradient></defs><path d="M46 10 C55 14 58 38 58 58 C58 66 55 70 50 71" fill="none" stroke="#2a2a4c" stroke-width="6"/><path d="M9 8 Q9 2 15 2 L42 2 Q48 2 48 8 L50 70 Q50 76 44 76 L10 76 Q4 76 4 70 Z" fill="url(#bpg)"/><path d="M13 8 Q13 6 16 6 L41 6 Q44 6 44 9 L44 29 Q44 31 41 31 L16 31 Q13 31 13 29Z" fill="url(#bpp)"/><path d="M15 9 L42 9" stroke="#8080aa" stroke-width="1" opacity=".5"/><path d="M5 38 Q5 33 10 33 L44 33 Q49 33 49 38 L49 70 Q49 74 44 74 L10 74 Q5 74 5 70Z" fill="#2c2c50"/><path d="M10 40 Q10 37 13 37 L41 37 Q44 37 44 40 L44 67 Q44 70 41 70 L13 70 Q10 70 10 67Z" fill="#3e3e68"/><path d="M13 40 L33 40" stroke="#9090b8" stroke-width="1.2" opacity=".6"/></svg>
<svg class="a" style="left:1103.8px;top:780px;overflow:visible" width="266" height="62" viewBox="0 0 266 62"><line x1="0" x2="266" y1="8.6" y2="8.6" stroke="#ddd4e8" stroke-width="1"/><line x1="0" x2="266" y1="22.0" y2="22.0" stroke="#ddd4e8" stroke-width="1"/><line x1="0" x2="266" y1="34.3" y2="34.3" stroke="#ddd4e8" stroke-width="1"/><line x1="0" x2="266" y1="48.0" y2="48.0" stroke="#ddd4e8" stroke-width="1"/><line x1="0" x2="266" y1="60" y2="60" stroke="#cfc5e0" stroke-width="1.2"/><defs><linearGradient id="tp0" x1="0" y1="0" x2="0" y2="1"><stop offset="0" stop-color="#7c80e2"/><stop offset="1" stop-color="#6d70d8"/></linearGradient></defs><rect x="21.2" y="24.6" width="21.8" height="35.4" fill="url(#tp0)"/><defs><linearGradient id="tp1" x1="0" y1="0" x2="0" y2="1"><stop offset="0" stop-color="#7c86e6"/><stop offset="1" stop-color="#6f76da"/></linearGradient></defs><rect x="56.0" y="32.8" width="21.8" height="27.2" fill="url(#tp1)"/><defs><linearGradient id="tp2" x1="0" y1="0" x2="0" y2="1"><stop offset="0" stop-color="#7f7fe0"/><stop offset="1" stop-color="#6e6ad6"/></linearGradient></defs><rect x="90.2" y="17.7" width="21.8" height="42.3" fill="url(#tp2)"/><defs><linearGradient id="tp3" x1="0" y1="0" x2="0" y2="1"><stop offset="0" stop-color="#8a6ee0"/><stop offset="1" stop-color="#6f5ed0"/></linearGradient></defs><rect x="127.2" y="16.0" width="22.0" height="44.0" fill="url(#tp3)"/><defs><linearGradient id="tp4" x1="0" y1="0" x2="0" y2="1"><stop offset="0" stop-color="#7f92e8"/><stop offset="1" stop-color="#6c7ad8"/></linearGradient></defs><rect x="161.9" y="26.7" width="21.8" height="33.3" fill="url(#tp4)"/><defs><linearGradient id="tp5" x1="0" y1="0" x2="0" y2="1"><stop offset="0" stop-color="#5cc0e6"/><stop offset="1" stop-color="#4ea4dc"/></linearGradient></defs><rect x="196.7" y="6.5" width="22.1" height="53.5" fill="url(#tp5)"/><defs><linearGradient id="tp6" x1="0" y1="0" x2="0" y2="1"><stop offset="0" stop-color="#6a5edc"/><stop offset="1" stop-color="#5248c8"/></linearGradient></defs><rect x="230.7" y="3.0" width="23.0" height="57.0" fill="url(#tp6)"/></svg>
<div class="a" style="left:336.5px;top:630.4px;width:486.5px;height:226.6px;border-radius:5px;background:linear-gradient(180deg,#f8f1f7,#f3eaf3 40%,#f0e7f1);box-shadow:0 1px 2px rgba(120,90,170,.18),0 3px 10px rgba(120,90,170,.18);"></div>
<div class="t" style="left:357.0px;top:643.5px;font-size:21.5px;font-weight:400;color:#2c2566;-webkit-text-stroke:0.75px #2c2566">Recent Activity</div>
<div class="a" style="left:336.5px;top:675.8px;width:486.5px;height:1.0px;background:#ddd2e8"></div>
<svg class="a" style="left:354.4px;top:692.3px;overflow:visible" width="22" height="22" viewBox="0 0 22 22"><rect x="0" y="0" width="21.5" height="21.5" rx="3.5" fill="#4aa8b0"/><path d="M5.5 11 L9 14.5 L16 7.5" fill="none" stroke="#fff" stroke-width="2"/></svg>
<div class="t" style="left:387.0px;top:692.8px;font-size:17px;font-weight:400;color:#231d4f;letter-spacing:-0.02px">Order #1667 shipped</div>
<svg class="a" style="left:354.4px;top:729.7px;overflow:visible" width="22" height="22" viewBox="0 0 22 22"><rect x="0" y="0" width="21.5" height="21.5" rx="3.5" fill="#fbc55a"/><circle cx="11" cy="8.5" r="3" fill="#fff3d8"/><path d="M5.5 17 Q5.5 12 11 12 Q16.5 12 16.5 17Z" fill="#fff3d8"/></svg>
<div class="t" style="left:387.0px;top:730.9px;font-size:17px;font-weight:400;color:#231d4f;letter-spacing:-0.02px">New hire added: Emily Rogers</div>
<svg class="a" style="left:354.4px;top:770.7px;overflow:visible" width="22" height="22" viewBox="0 0 22 22"><rect x="0" y="0" width="21.5" height="21.5" rx="3.5" fill="#7a55c0"/><rect x="5" y="6.5" width="12" height="9" rx="2" fill="#f4ecfb"/><path d="M8.5 9.5 L13.5 9.5 L11 12Z" fill="#7a55c0"/></svg>
<div class="t" style="left:387.0px;top:773.2px;font-size:17px;font-weight:400;color:#231d4f;letter-spacing:-0.02px">Inventory updated: item #2034 restocked.</div>
<svg class="a" style="left:354.4px;top:812px;overflow:visible" width="22" height="22" viewBox="0 0 22 22"><rect x="0" y="0" width="21.5" height="21.5" rx="3.5" fill="#4f86e0"/><path d="M5 7 L10 8.5 L10 15 L5 15Z M11 8.5 L17 7 L17 15 L11 15Z" fill="#eef4fd"/></svg>
<div class="t" style="left:387.0px;top:813.3px;font-size:17px;font-weight:400;color:#231d4f;letter-spacing:-0.02px">Meeting scheduled: Team Strategy Session</div>
<div class="a" style="left:351.0px;top:718.1px;width:454.0px;height:1.0px;background:#ddd3e6"></div>
<div class="a" style="left:351.0px;top:760.1px;width:454.0px;height:1.0px;background:#ddd3e6"></div>
<div class="a" style="left:351.0px;top:800.8px;width:459.0px;height:1.0px;background:#ddd3e6"></div>
<div class="a" style="left:351.0px;top:845.7px;width:454.0px;height:1.0px;background:#ddd3e6"></div>
<div class="a" style="left:836.8px;top:630.3px;width:236.9px;height:226.5px;border-radius:5px;background:linear-gradient(180deg,#f8f1f7,#f3eaf3 40%,#f0e7f1);box-shadow:0 1px 2px rgba(120,90,170,.18),0 3px 10px rgba(120,90,170,.18);"></div>
<div class="t" style="left:858.8px;top:643.4px;font-size:20.8px;font-weight:400;color:#2c2566;-webkit-text-stroke:0.75px #2c2566">Financial Overview</div>
<div class="a" style="left:836.8px;top:674.5px;width:236.9px;height:1.0px;background:#ddd2e8"></div>
<div class="a" style="left:857.0px;top:688.4px;width:208.0px;height:36.6px;border-radius:3px;background:linear-gradient(90deg,#7556bb,#6e50b6)"></div>
<div class="t" style="left:867.8px;top:698.9px;font-size:17px;font-weight:400;color:#f6f0ff;letter-spacing:-0.2px">Expenses</div>
<div class="t" style="right:477.7px;top:694.5px;font-size:23px;font-weight:400;color:#ffffff;letter-spacing:0;-webkit-text-stroke:0.55px #ffffff">$22,800</div>
<div class="t" style="left:867.8px;top:739.5px;font-size:17.5px;font-weight:400;color:#231d4f;">Profit</div>
<div class="t" style="right:474.6px;top:735.9px;font-size:24px;font-weight:400;color:#221c4a;letter-spacing:-0.2px;-webkit-text-stroke:0.8px #221c4a">$61,400</div>
<div class="a" style="left:857.0px;top:769.2px;width:208.0px;height:1.0px;background:#ddd3e6"></div>
<div class="t" style="left:869.0px;top:785.9px;font-size:17.5px;font-weight:400;color:#231d4f;letter-spacing:-0.2px">Cash Flow</div>
<div class="t" style="right:474.6px;top:783.6px;font-size:22.5px;font-weight:400;color:#2a8c3c;letter-spacing:-0.2px;-webkit-text-stroke:0.6px #2a8c3c">+$17,300</div>
<div class="a" style="left:858.0px;top:819.0px;width:22.5px;height:19.5px;background:#c9b6ee;border-radius:1px 1px 0 0"></div>
<div class="a" style="left:858.0px;top:833.6px;width:22.5px;height:4.9px;background:#a68bdc"></div>
<div class="a" style="left:885.0px;top:821.4px;width:22.0px;height:17.1px;background:#c9b6ee;border-radius:1px 1px 0 0"></div>
<div class="a" style="left:911.8px;top:813.6px;width:22.0px;height:24.9px;background:#cbb8ee;border-radius:1px 1px 0 0"></div>
<div class="a" style="left:911.8px;top:833.6px;width:22.0px;height:4.9px;background:#a68bdc"></div>
<div class="a" style="left:939.0px;top:817.3px;width:21.6px;height:21.2px;background:#8fcdee;border-radius:1px 1px 0 0"></div>
<div class="a" style="left:965.7px;top:815.8px;width:21.3px;height:22.7px;background:#8fcdee;border-radius:1px 1px 0 0"></div>
<div class="a" style="left:992.4px;top:820.7px;width:21.2px;height:17.8px;background:#8fcdee;border-radius:1px 1px 0 0"></div>
<div class="a" style="left:1019.5px;top:815.8px;width:21.2px;height:22.7px;background:#86c8ee;border-radius:1px 1px 0 0"></div>
<div class="a" style="left:1042.0px;top:815.3px;width:22.0px;height:23.2px;background:#dcebdf;border-radius:1px 1px 0 0"></div>
<div class="a" style="left:1042.0px;top:833.6px;width:22.0px;height:4.9px;background:#c8e4cf"></div>
</body></html>
